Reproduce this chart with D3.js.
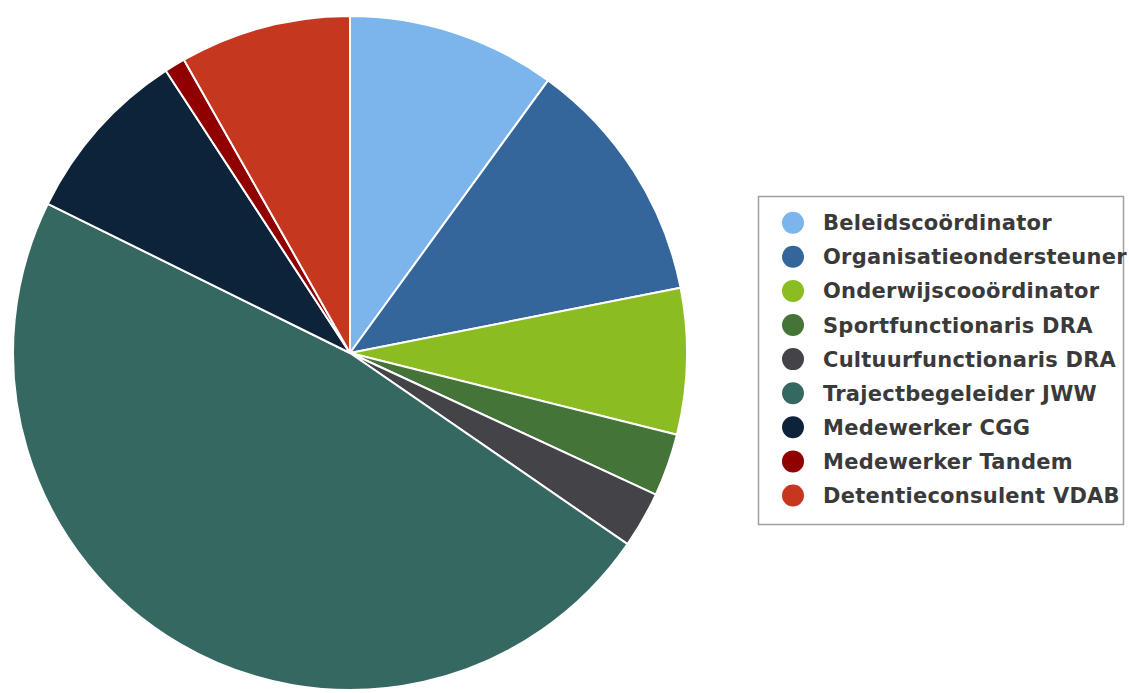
<!DOCTYPE html>
<html>
<head>
<meta charset="utf-8">
<script src="https://cdn.jsdelivr.net/npm/d3@7"></script>
<style>
  html, body { margin: 0; padding: 0; background: #ffffff; }
  svg { display: block; }
</style>
</head>
<body>
<svg id="chart" width="1129" height="693"></svg>
<script>
// Functies en hun aandeel
const categories = [
  "Beleidscoördinator",
  "Organisatieondersteuner",
  "Onderwijscooördinator",
  "Sportfunctionaris DRA",
  "Cultuurfunctionaris DRA",
  "Trajectbegeleider JWW",
  "Medewerker CGG",
  "Medewerker Tandem",
  "Detentieconsulent VDAB"
];
const values = [10.0, 11.9, 7.0, 3.0, 2.7, 47.7, 8.5, 1.0, 8.2];
const colors = [
  "#7cb5ec", "#34659b", "#8bbc21", "#447437", "#434348",
  "#356861", "#0d233a", "#910000", "#c5371f"
];

const svg = d3.select("#chart");
const cx = 350, cy = 353, radius = 337;

const data = categories.map((name, i) => ({ name, value: values[i], color: colors[i] }));

const pie = d3.pie().value(d => d.value).sort(null);
const arc = d3.arc().innerRadius(0).outerRadius(radius);

svg.append("g")
  .attr("transform", `translate(${cx},${cy})`)
  .selectAll("path")
  .data(pie(data))
  .join("path")
  .attr("d", arc)
  .attr("fill", d => d.data.color)
  .attr("stroke", "#ffffff")
  .attr("stroke-width", 2)
  .attr("stroke-linejoin", "round");

// Legende
const legend = svg.append("g");
legend.append("rect")
  .attr("x", 758.5).attr("y", 196.5)
  .attr("width", 365).attr("height", 328)
  .attr("fill", "#ffffff")
  .attr("stroke", "#a0a0a0")
  .attr("stroke-width", 1.5);

const rowY = d3.scalePoint().domain(categories).range([222.7, 495.5]);

const items = legend.selectAll("g.item")
  .data(data)
  .join("g")
  .attr("class", "item")
  .attr("transform", d => `translate(0,${rowY(d.name)})`);

items.append("circle")
  .attr("cx", 793).attr("cy", 0).attr("r", 11)
  .attr("fill", d => d.color);

items.append("text")
  .attr("x", 823).attr("y", 7.5)
  .attr("font-family", "DejaVu Sans, sans-serif")
  .attr("font-weight", "bold")
  .attr("font-size", 21)
  .attr("letter-spacing", 0.25)
  .attr("fill", "#3a3a3a")
  .text(d => d.name);
</script>
</body>
</html>
